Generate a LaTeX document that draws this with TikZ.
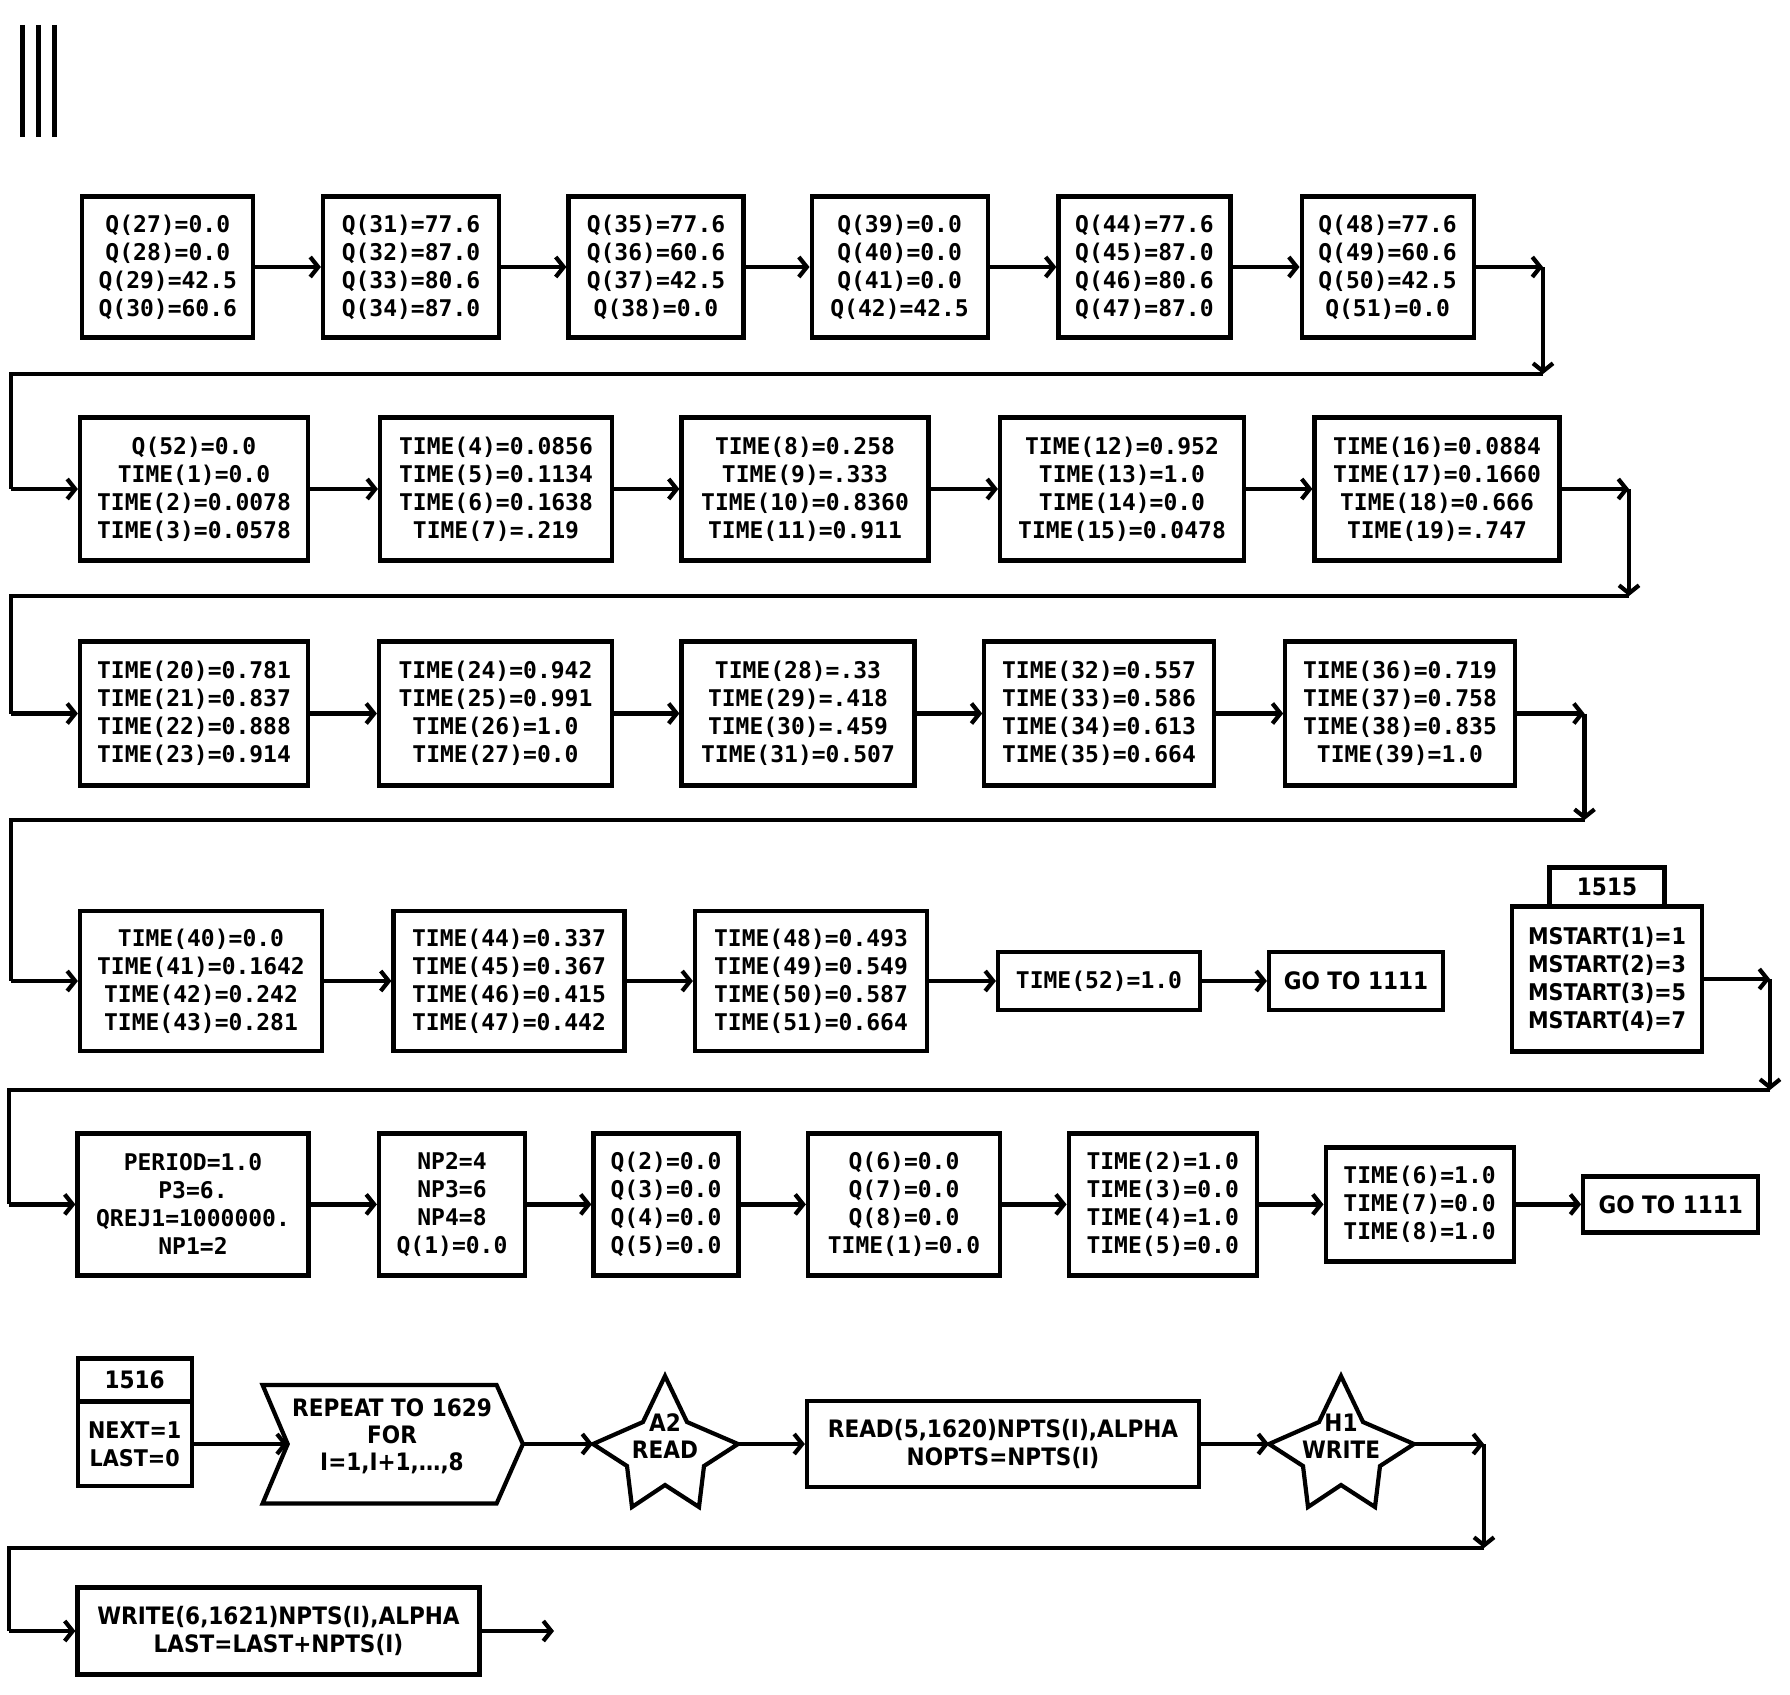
\documentclass[tikz,border=0pt]{standalone}
\usepackage{fontspec}
\newfontfamily\monof{DejaVu Sans Mono Bold}
\newfontfamily\condf{DejaVu Sans Condensed Bold}
\usetikzlibrary{arrows.meta}
\begin{document}
\begin{tikzpicture}[x=1pt,y=-1pt,
  box/.style={draw, line width=4.2pt, align=center, inner sep=0pt, font=\monof\fontsize{23}{28}\selectfont},
  cbox/.style={draw, line width=4.2pt, align=center, inner sep=0pt, font=\condf\fontsize{24}{28}\selectfont},
  ctxt/.style={align=center, inner sep=0pt, font=\condf\fontsize{24}{27}\selectfont},
  shp/.style={draw, line width=4.2pt, line join=miter},
  arr/.style={line width=4.2pt, -{Straight Barb[length=8pt,width=20pt]}},
  ln/.style={line width=4.2pt}
]
\useasboundingbox (0,0) rectangle (1790,1694);
\fill[white] (0,0) rectangle (1790,1694);

% marks top-left
\foreach \xx in {22.8,38.8,54.8} \draw[line width=5pt] (\xx,25) -- (\xx,137);

% ---------- Row 1 ----------
\node[box, minimum width=171pt, minimum height=141pt] (b11) at (167.8,267) {Q(27)=0.0\\Q(28)=0.0\\Q(29)=42.5\\Q(30)=60.6};
\node[box, minimum width=176pt, minimum height=141pt] (b12) at (411,267) {Q(31)=77.6\\Q(32)=87.0\\Q(33)=80.6\\Q(34)=87.0};
\node[box, minimum width=175pt, minimum height=141pt] (b13) at (656,267) {Q(35)=77.6\\Q(36)=60.6\\Q(37)=42.5\\Q(38)=0.0};
\node[box, minimum width=176pt, minimum height=141pt] (b14) at (899.6,267) {Q(39)=0.0\\Q(40)=0.0\\Q(41)=0.0\\Q(42)=42.5};
\node[box, minimum width=172pt, minimum height=141pt] (b15) at (1144.4,267) {Q(44)=77.6\\Q(45)=87.0\\Q(46)=80.6\\Q(47)=87.0};
\node[box, minimum width=172pt, minimum height=141pt] (b16) at (1387.6,267) {Q(48)=77.6\\Q(49)=60.6\\Q(50)=42.5\\Q(51)=0.0};
\draw[arr] (b11.east) -- (b12.west);
\draw[arr] (b12.east) -- (b13.west);
\draw[arr] (b13.east) -- (b14.west);
\draw[arr] (b14.east) -- (b15.west);
\draw[arr] (b15.east) -- (b16.west);

% ---------- Row 2 ----------
\node[box, minimum width=228pt, minimum height=143pt] (b21) at (194,489) {Q(52)=0.0\\TIME(1)=0.0\\TIME(2)=0.0078\\TIME(3)=0.0578};
\node[box, minimum width=232pt, minimum height=143pt] (b22) at (496,489) {TIME(4)=0.0856\\TIME(5)=0.1134\\TIME(6)=0.1638\\TIME(7)=.219};
\node[box, minimum width=247pt, minimum height=143pt] (b23) at (805,489) {TIME(8)=0.258\\TIME(9)=.333\\TIME(10)=0.8360\\TIME(11)=0.911};
\node[box, minimum width=244pt, minimum height=143pt] (b24) at (1122,489) {TIME(12)=0.952\\TIME(13)=1.0\\TIME(14)=0.0\\TIME(15)=0.0478};
\node[box, minimum width=245pt, minimum height=143pt] (b25) at (1437,489) {TIME(16)=0.0884\\TIME(17)=0.1660\\TIME(18)=0.666\\TIME(19)=.747};
\draw[arr] (b21.east) -- (b22.west);
\draw[arr] (b22.east) -- (b23.west);
\draw[arr] (b23.east) -- (b24.west);
\draw[arr] (b24.east) -- (b25.west);

% return 1
\coordinate (r1a) at (1543,267);
\coordinate (r1b) at (1543,374);
\coordinate (r1c) at (11,374);
\coordinate (r1d) at (11,489);
\draw[arr] (b16.east) -- (r1a);
\draw[arr] (r1a) -- (r1b);
\draw[ln] (r1b) -- (r1c) -- (r1d);
\draw[arr] (r1d) -- (b21.west);

% ---------- Row 3 ----------
\node[box, minimum width=228pt, minimum height=144pt] (b31) at (194,713.5) {TIME(20)=0.781\\TIME(21)=0.837\\TIME(22)=0.888\\TIME(23)=0.914};
\node[box, minimum width=233pt, minimum height=144pt] (b32) at (495.5,713.5) {TIME(24)=0.942\\TIME(25)=0.991\\TIME(26)=1.0\\TIME(27)=0.0};
\node[box, minimum width=233pt, minimum height=144pt] (b33) at (798,713.5) {TIME(28)=.33\\TIME(29)=.418\\TIME(30)=.459\\TIME(31)=0.507};
\node[box, minimum width=229.5pt, minimum height=144pt] (b34) at (1099,713.5) {TIME(32)=0.557\\TIME(33)=0.586\\TIME(34)=0.613\\TIME(35)=0.664};
\node[box, minimum width=229.5pt, minimum height=144pt] (b35) at (1400,713.5) {TIME(36)=0.719\\TIME(37)=0.758\\TIME(38)=0.835\\TIME(39)=1.0};
\draw[arr] (b31.east) -- (b32.west);
\draw[arr] (b32.east) -- (b33.west);
\draw[arr] (b33.east) -- (b34.west);
\draw[arr] (b34.east) -- (b35.west);

% return 2
\coordinate (r2a) at (1629,489);
\coordinate (r2b) at (1629,596);
\coordinate (r2c) at (11,596);
\coordinate (r2d) at (11,713.5);
\draw[arr] (b25.east) -- (r2a);
\draw[arr] (r2a) -- (r2b);
\draw[ln] (r2b) -- (r2c) -- (r2d);
\draw[arr] (r2d) -- (b31.west);

% ---------- Row 4 ----------
\node[box, minimum width=242pt, minimum height=140pt] (b41) at (201,981) {TIME(40)=0.0\\TIME(41)=0.1642\\TIME(42)=0.242\\TIME(43)=0.281};
\node[box, minimum width=231pt, minimum height=140pt] (b42) at (509,981) {TIME(44)=0.337\\TIME(45)=0.367\\TIME(46)=0.415\\TIME(47)=0.442};
\node[box, minimum width=232pt, minimum height=140pt] (b43) at (811,981) {TIME(48)=0.493\\TIME(49)=0.549\\TIME(50)=0.587\\TIME(51)=0.664};
\node[box, minimum width=202pt, minimum height=58pt] (b44) at (1099,981) {TIME(52)=1.0};
\node[cbox, minimum width=174pt, minimum height=58pt] (b45) at (1356,981) {GO TO 1111};
\draw[arr] (b41.east) -- (b42.west);
\draw[arr] (b42.east) -- (b43.west);
\draw[arr] (b43.east) -- (b44.west);
\draw[arr] (b44.east) -- (b45.west);

% return 3
\coordinate (r3a) at (1584.5,713.5);
\coordinate (r3b) at (1584.5,820);
\coordinate (r3c) at (11,820);
\coordinate (r3d) at (11,981);
\draw[arr] (b35.east) -- (r3a);
\draw[arr] (r3a) -- (r3b);
\draw[ln] (r3b) -- (r3c) -- (r3d);
\draw[arr] (r3d) -- (b41.west);

% 1515 block
\node[cbox, minimum width=115pt, minimum height=39pt] (t1515) at (1607,887) {1515};
\node[cbox, minimum width=190pt, minimum height=145pt, font=\condf\fontsize{23}{28}\selectfont] (b46) at (1607,979) {MSTART(1)=1\\MSTART(2)=3\\MSTART(3)=5\\MSTART(4)=7};

% ---------- Row 5 ----------
\node[box, minimum width=231pt, minimum height=142pt] (b51) at (193,1204.4) {PERIOD=1.0\\P3=6.\\QREJ1=1000000.\\NP1=2};
\node[box, minimum width=146pt, minimum height=142pt] (b52) at (452,1204.4) {NP2=4\\NP3=6\\NP4=8\\Q(1)=0.0};
\node[box, minimum width=145pt, minimum height=142pt] (b53) at (666,1204.4) {Q(2)=0.0\\Q(3)=0.0\\Q(4)=0.0\\Q(5)=0.0};
\node[box, minimum width=192pt, minimum height=142pt] (b54) at (904,1204.4) {Q(6)=0.0\\Q(7)=0.0\\Q(8)=0.0\\TIME(1)=0.0};
\node[box, minimum width=188pt, minimum height=142pt] (b55) at (1162.7,1204.4) {TIME(2)=1.0\\TIME(3)=0.0\\TIME(4)=1.0\\TIME(5)=0.0};
\node[box, minimum width=188pt, minimum height=114pt] (b56) at (1419.6,1204.4) {TIME(6)=1.0\\TIME(7)=0.0\\TIME(8)=1.0};
\node[cbox, minimum width=175pt, minimum height=56pt] (b57) at (1670.7,1204.4) {GO TO 1111};
\draw[arr] (b51.east) -- (b52.west);
\draw[arr] (b52.east) -- (b53.west);
\draw[arr] (b53.east) -- (b54.west);
\draw[arr] (b54.east) -- (b55.west);
\draw[arr] (b55.east) -- (b56.west);
\draw[arr] (b56.east) -- (b57.west);

% return 4
\coordinate (r4a) at (1770,979);
\coordinate (r4b) at (1770,1090);
\coordinate (r4c) at (9,1090);
\coordinate (r4d) at (9,1204.4);
\draw[arr] (b46.east) -- (r4a);
\draw[arr] (r4a) -- (r4b);
\draw[ln] (r4b) -- (r4c) -- (r4d);
\draw[arr] (r4d) -- (b51.west);

% ---------- Row 6 ----------
\node[cbox, minimum width=114pt, minimum height=43pt] (t1516) at (134.7,1380) {1516};
\node[cbox, minimum width=114pt, minimum height=84.5pt, font=\condf\fontsize{23}{28}\selectfont] (b61) at (134.7,1444) {NEXT=1\\LAST=0};

\draw[shp] (262.6,1385) -- (496.6,1385) -- (522.9,1444) coordinate (repout)
  -- (496.6,1503.5) -- (262.6,1503.5) -- (287.7,1444) coordinate (repin) -- cycle;
\node[ctxt] (rep) at (392,1436) {REPEAT TO 1629\\FOR\\I=1,I+1,\dots,8};

% star A2
\draw[shp] (665,1376) -- (687,1422) -- (738,1444) coordinate (s1r) -- (704,1466) -- (699,1507)
  -- (665,1485) -- (632,1507) -- (627,1466) -- (593,1444) coordinate (s1l) -- (643,1422) -- cycle;
\node[ctxt] (sA2) at (665,1436) {A2\\READ};

\node[cbox, minimum width=392pt, minimum height=86pt] (b63) at (1003,1444) {READ(5,1620)NPTS(I),ALPHA\\NOPTS=NPTS(I)};

% star H1
\draw[shp] (1341,1376) -- (1363,1422) -- (1414,1444) coordinate (s2r) -- (1380,1466) -- (1375,1507)
  -- (1341,1485) -- (1308,1507) -- (1303,1466) -- (1269,1444) coordinate (s2l) -- (1319,1422) -- cycle;
\node[ctxt] (sH1) at (1341,1436) {H1\\WRITE};

\draw[arr] (b61.east) -- (repin);
\draw[arr] (repout) -- (s1l);
\draw[arr] (s1r) -- (b63.west);
\draw[arr] (b63.east) -- (s2l);

% return 5
\coordinate (r6a) at (1484,1444);
\coordinate (r6b) at (1484,1548);
\coordinate (r6c) at (9,1548);
\coordinate (r6d) at (9,1631);
\draw[arr] (s2r) -- (r6a);
\draw[arr] (r6a) -- (r6b);
\draw[ln] (r6b) -- (r6c) -- (r6d);

% ---------- Row 7 ----------
\node[cbox, minimum width=402pt, minimum height=87pt] (b71) at (278.5,1631) {WRITE(6,1621)NPTS(I),ALPHA\\LAST=LAST+NPTS(I)};
\draw[arr] (r6d) -- (b71.west);
\coordinate (r7) at (554,1631);
\draw[arr] (b71.east) -- (r7);
\end{tikzpicture}
\end{document}
